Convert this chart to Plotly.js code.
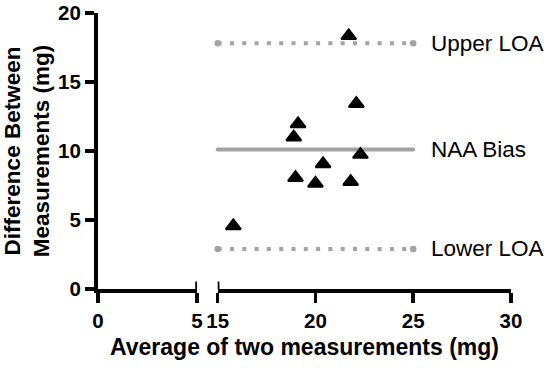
<!DOCTYPE html>
<html>
<head>
<meta charset="utf-8">
<script src="https://cdn.plot.ly/plotly-3.0.1.min.js"></script>
<style>html,body{margin:0;padding:0;background:#fff}#chart{width:550px;height:369px}</style>
</head>
<body>
<div id="chart"></div>
<script>
// Data (Bland–Altman plot)
var avgValues  = [21.70, 22.09, 19.11, 18.89, 20.39, 18.98, 20.00, 21.80, 22.30, 15.80];
var diffValues = [18.35, 13.43, 11.96, 11.00, 9.06, 8.07, 7.65, 7.78, 9.74, 4.57];

var refNames  = ["Upper LOA", "NAA Bias", "Lower LOA"];
var refValues = [17.8, 10.1, 2.9];
var refDash   = ["4px,8.3px", "solid", "4px,8.3px"];
var refSpan   = [15, 25];

var xRange1 = [0, 5];
var xRange2 = [15, 30];
var xTicks1 = [0, 5];
var xTicks2 = [15, 20, 25, 30];
var yTicks  = [0, 5, 10, 15, 20];

var FONT = "Arial, 'Liberation Sans', sans-serif";
var GREY = "#a3a3a3";

function boldLabels(vals) { return vals.map(function (v) { return "<b>" + v + "</b>"; }); }

var traces = [];
refValues.forEach(function (v, i) {
  traces.push({
    type: "scatter", mode: "lines+markers", xaxis: "x2", yaxis: "y",
    x: refSpan, y: [v, v],
    line: {color: GREY, width: 4, dash: refDash[i]},
    marker: {color: GREY, size: refDash[i] === "solid" ? 4 : 6.5},
    hoverinfo: "skip", cliponaxis: false
  });
});
traces.push({
  type: "scatter", mode: "markers", xaxis: "x2", yaxis: "y",
  x: avgValues, y: diffValues,
  marker: {symbol: "triangle-up", size: 13, color: "#000", line: {color: "#000", width: 2}},
  cliponaxis: false
});

var axisCommon = {
  showline: true, linewidth: 4, linecolor: "#000",
  ticks: "outside", ticklen: 10, tickwidth: 3.5, tickcolor: "#000",
  showgrid: false, zeroline: false,
  tickfont: {family: FONT, size: 20.5, color: "#000", weight: "bold"},
  anchor: "y", fixedrange: true, tickmode: "array"
};

var layout = {
  width: 550, height: 369,
  margin: {l: 98, r: 39, t: 13, b: 80},
  paper_bgcolor: "#fff", plot_bgcolor: "#fff",
  showlegend: false,
  xaxis: Object.assign({}, axisCommon, {domain: [0, 0.2397], range: xRange1, tickvals: xTicks1, ticktext: boldLabels(xTicks1)}),
  xaxis2: Object.assign({}, axisCommon, {domain: [0.2898, 1], range: xRange2, tickvals: xTicks2, ticktext: boldLabels(xTicks2)}),
  yaxis: Object.assign({}, axisCommon, {
    anchor: "x", range: [0, 20], tickvals: yTicks, ticktext: boldLabels(yTicks), ticklen: 9,
    title: {text: "<b>Difference Between<br>Measurements (mg)</b>", font: {family: FONT, size: 22.5, color: "#000", weight: "bold"}, standoff: 3}
  }),
  shapes: [
    {type: "line", xref: "x", yref: "paper", x0: xRange1[1], x1: xRange1[1], y0: 0, y1: 0.027, line: {color: "#000", width: 3.5}},
    {type: "line", xref: "x2", yref: "paper", x0: xRange2[0], x1: xRange2[0], y0: 0, y1: 0.027, line: {color: "#000", width: 3.5}}
  ],
  annotations: [
    {xref: "paper", yref: "paper", x: 0.5, y: -0.21, xanchor: "center", yanchor: "middle", showarrow: false,
     text: "<b>Average of two measurements (mg)</b>", font: {family: FONT, size: 23, color: "#000", weight: "bold"}}
  ].concat(refNames.map(function (n, i) {
    return {xref: "x2", yref: "y", x: refSpan[1], y: refValues[i], xanchor: "left", yanchor: "middle",
            xshift: 16, showarrow: false, text: n, font: {family: FONT, size: 22.5, color: "#000"}};
  }))
};

Plotly.newPlot("chart", traces, layout, {displayModeBar: false, staticPlot: true});
</script>
</body>
</html>
